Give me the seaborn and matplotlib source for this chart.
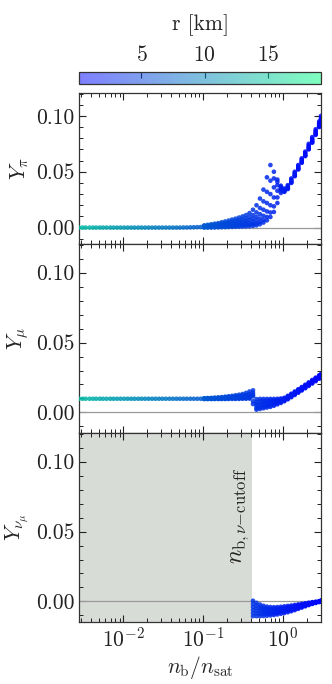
import numpy as np
import pandas as pd
import matplotlib
matplotlib.use("Agg")
import matplotlib.pyplot as plt
import seaborn as sns
from matplotlib.ticker import MultipleLocator, LogLocator, NullFormatter
from matplotlib.colors import Normalize

# ---------------- data ----------------
R_MIN, R_MAX = 0.06, 19.2
NB_CUTOFF = 0.406

# low-density part (single track)
x_low = [0.0028, 0.0031, 0.0034, 0.0038, 0.0042, 0.0046, 0.0051, 0.0056, 0.0062, 0.0069,
         0.0076, 0.0084, 0.0093, 0.0103, 0.0114, 0.0126, 0.0139, 0.0154, 0.017, 0.0188,
         0.0208, 0.023, 0.0254, 0.0281, 0.031, 0.0343, 0.038, 0.042, 0.0464, 0.0513,
         0.0567, 0.0627, 0.0693, 0.0766, 0.0847, 0.0937]
r_low = [14.0, 13.8, 13.6, 13.4, 13.2, 13.0, 12.8, 12.6, 12.4, 12.2,
         12.0, 11.8, 11.6, 11.4, 11.2, 11.0, 10.8, 10.6, 10.4, 10.2,
         10.0, 9.8, 9.6, 9.4, 9.2, 9.0, 8.8, 8.6, 8.4, 8.2,
         8.0, 7.8, 7.6, 7.4, 7.2, 7.0]
ypi_low = [0.0000, 0.0000, 0.0000, 0.0000, 0.0000, 0.0000, 0.0000, 0.0000, 0.0000, 0.0000,
           0.0000, 0.0000, 0.0000, 0.0000, 0.0000, 0.0000, 0.0000, 0.0000, 0.0000, 0.0000,
           0.0000, 0.0000, 0.0000, 0.0000, 0.0000, 0.0000, 0.0000, 0.0000, 0.0000, 0.0000,
           0.0001, 0.0001, 0.0002, 0.0003, 0.0004, 0.0005]
ymu_low = [0.0098, 0.0098, 0.0098, 0.0098, 0.0098, 0.0098, 0.0098, 0.0098, 0.0098, 0.0098,
           0.0098, 0.0098, 0.0098, 0.0098, 0.0098, 0.0098, 0.0098, 0.0098, 0.0098, 0.0098,
           0.0098, 0.0098, 0.0098, 0.0098, 0.0098, 0.0098, 0.0098, 0.0098, 0.0098, 0.0098,
           0.0098, 0.0098, 0.0098, 0.0098, 0.0098, 0.0098]

# high-density part (several tracks)
x_high = [0.1036, 0.1145, 0.1266, 0.14, 0.1548, 0.1711, 0.1892, 0.2092, 0.2313, 0.2557,
          0.2827, 0.3125, 0.3455, 0.382, 0.4224, 0.467, 0.5163, 0.5708, 0.6311, 0.6977,
          0.7714, 0.8529, 0.943, 1.0426, 1.1527, 1.2744, 1.409, 1.5578, 1.7223, 1.9042,
          2.1053, 2.3276, 2.5734, 2.8452, 3.0]
r_high = [6.8, 6.6, 6.4, 6.2, 6.0, 5.8, 5.6, 5.4, 5.2, 5.0,
          4.8, 4.6, 4.4, 4.2, 4.0, 3.8, 3.6, 3.4, 3.2, 3.0,
          2.8, 2.6, 2.4, 2.2, 2.0, 1.8, 1.6, 1.4, 1.25, 1.1,
          0.95, 0.8, 0.65, 0.5, 0.4]

ypi_t1 = [0.0000, 0.0000, 0.0000, 0.0001, 0.0002, 0.0003, 0.0004, 0.0005, 0.0006, 0.0007,
          0.0008, 0.0009, 0.0010, 0.0012, 0.0015, 0.0020, 0.0030, 0.0045, 0.0065, 0.0095,
          0.0140, 0.0220, 0.0310, 0.0320, 0.0345, 0.0400, 0.0460, 0.0520, 0.0580, 0.0640,
          0.0700, 0.0760, 0.0830, 0.0900, 0.0945]
ypi_t2 = [0.0003, 0.0004, 0.0005, 0.0006, 0.0007, 0.0009, 0.0010, 0.0012, 0.0014, 0.0016,
          0.0018, 0.0020, 0.0023, 0.0026, 0.0031, 0.0038, 0.0050, 0.0068, 0.0095, 0.0135,
          0.0190, 0.0270, 0.0330, 0.0325, 0.0350, 0.0405, 0.0465, 0.0525, 0.0585, 0.0645,
          0.0705, 0.0765, 0.0835, 0.0905, 0.0950]
ypi_t3 = [0.0006, 0.0008, 0.0010, 0.0012, 0.0014, 0.0016, 0.0019, 0.0022, 0.0025, 0.0028,
          0.0032, 0.0035, 0.0039, 0.0044, 0.0052, 0.0063, 0.0080, 0.0105, 0.0145, 0.0200,
          0.0270, 0.0330, 0.0345, 0.0330, 0.0355, 0.0410, 0.0470, 0.0530, 0.0590, 0.0650,
          0.0715, 0.0775, 0.0845, 0.0915, 0.0960]
ypi_t4 = [0.0010, 0.0013, 0.0015, 0.0018, 0.0021, 0.0025, 0.0029, 0.0033, 0.0038, 0.0043,
          0.0048, 0.0053, 0.0059, 0.0067, 0.0079, 0.0095, 0.0120, 0.0160, 0.0220, 0.0300,
          0.0360, 0.0380, 0.0355, 0.0335, 0.0360, 0.0420, 0.0480, 0.0540, 0.0600, 0.0660,
          0.0725, 0.0785, 0.0855, 0.0925, 0.0970]
ypi_t5 = [0.0015, 0.0018, 0.0022, 0.0026, 0.0030, 0.0036, 0.0041, 0.0047, 0.0054, 0.0060,
          0.0067, 0.0074, 0.0082, 0.0094, 0.0112, 0.0136, 0.0175, 0.0235, 0.0320, 0.0420,
          0.0440, 0.0410, 0.0365, 0.0340, 0.0370, 0.0430, 0.0490, 0.0550, 0.0610, 0.0670,
          0.0735, 0.0795, 0.0865, 0.0935, 0.0980]
ypi_t6 = [0.0020, 0.0025, 0.0030, 0.0035, 0.0040, 0.0048, 0.0055, 0.0063, 0.0072, 0.0080,
          0.0090, 0.0100, 0.0112, 0.0130, 0.0160, 0.0200, 0.0260, 0.0340, 0.0450, 0.0560,
          0.0500, 0.0430, 0.0375, 0.0350, 0.0380, 0.0440, 0.0500, 0.0560, 0.0620, 0.0680,
          0.0750, 0.0810, 0.0880, 0.0950, 0.1000]

ymu_t1 = [0.0096, 0.0096, 0.0096, 0.0096, 0.0096, 0.0096, 0.0096, 0.0097, 0.0097, 0.0097,
          0.0097, 0.0098, 0.0098, 0.0099, 0.0060, 0.0020, 0.0025, 0.0030, 0.0035, 0.0040,
          0.0048, 0.0058, 0.0068, 0.0080, 0.0094, 0.0109, 0.0125, 0.0141, 0.0157, 0.0173,
          0.0190, 0.0207, 0.0224, 0.0241, 0.0250]
ymu_t2 = [0.0097, 0.0097, 0.0097, 0.0098, 0.0098, 0.0098, 0.0099, 0.0099, 0.0100, 0.0100,
          0.0101, 0.0102, 0.0103, 0.0105, 0.0080, 0.0030, 0.0035, 0.0040, 0.0045, 0.0050,
          0.0057, 0.0065, 0.0074, 0.0085, 0.0099, 0.0114, 0.0130, 0.0146, 0.0162, 0.0178,
          0.0195, 0.0212, 0.0229, 0.0246, 0.0255]
ymu_t3 = [0.0098, 0.0098, 0.0099, 0.0099, 0.0100, 0.0100, 0.0101, 0.0102, 0.0103, 0.0104,
          0.0105, 0.0107, 0.0109, 0.0112, 0.0115, 0.0045, 0.0050, 0.0055, 0.0058, 0.0062,
          0.0066, 0.0072, 0.0080, 0.0090, 0.0104, 0.0119, 0.0135, 0.0151, 0.0167, 0.0183,
          0.0200, 0.0217, 0.0234, 0.0251, 0.0260]
ymu_t4 = [0.0099, 0.0100, 0.0100, 0.0101, 0.0102, 0.0103, 0.0104, 0.0106, 0.0107, 0.0109,
          0.0111, 0.0113, 0.0116, 0.0120, 0.0125, 0.0060, 0.0065, 0.0068, 0.0070, 0.0073,
          0.0076, 0.0080, 0.0086, 0.0095, 0.0109, 0.0124, 0.0140, 0.0156, 0.0172, 0.0188,
          0.0205, 0.0222, 0.0239, 0.0256, 0.0265]
ymu_t5 = [0.0100, 0.0101, 0.0102, 0.0103, 0.0104, 0.0106, 0.0108, 0.0110, 0.0112, 0.0115,
          0.0118, 0.0122, 0.0126, 0.0132, 0.0140, 0.0075, 0.0080, 0.0082, 0.0084, 0.0086,
          0.0087, 0.0089, 0.0092, 0.0100, 0.0114, 0.0129, 0.0145, 0.0161, 0.0177, 0.0193,
          0.0210, 0.0227, 0.0244, 0.0261, 0.0270]
ymu_t6 = [0.0102, 0.0103, 0.0104, 0.0106, 0.0108, 0.0110, 0.0113, 0.0116, 0.0119, 0.0123,
          0.0127, 0.0132, 0.0140, 0.0150, 0.0158, 0.0095, 0.0097, 0.0097, 0.0097, 0.0097,
          0.0097, 0.0098, 0.0100, 0.0105, 0.0119, 0.0134, 0.0150, 0.0166, 0.0182, 0.0198,
          0.0215, 0.0232, 0.0249, 0.0266, 0.0275]

# nu_mu fraction exists only above the cutoff density (x_high[14:])
ynu_t1 = [0.0005, -0.0010, -0.0022, -0.0031, -0.0037, -0.0040, -0.0041, -0.0040, -0.0038, -0.0035,
          -0.0032, -0.0029, -0.0025, -0.0021, -0.0017, -0.0013, -0.0009, -0.0005, -0.0002, 0.0002, 0.0006]
ynu_t2 = [-0.0017, -0.0029, -0.0039, -0.0046, -0.0050, -0.0052, -0.0052, -0.0051, -0.0048, -0.0045,
          -0.0041, -0.0037, -0.0032, -0.0027, -0.0022, -0.0017, -0.0012, -0.0008, -0.0004, 0.0001, 0.0005]
ynu_t3 = [-0.0039, -0.0048, -0.0055, -0.0060, -0.0063, -0.0064, -0.0063, -0.0061, -0.0058, -0.0054,
          -0.0050, -0.0045, -0.0040, -0.0034, -0.0028, -0.0022, -0.0016, -0.0010, -0.0006, 0.0000, 0.0004]
ynu_t4 = [-0.0061, -0.0067, -0.0072, -0.0075, -0.0076, -0.0076, -0.0075, -0.0072, -0.0068, -0.0064,
          -0.0059, -0.0054, -0.0047, -0.0040, -0.0033, -0.0026, -0.0019, -0.0013, -0.0007, -0.0001, 0.0002]
ynu_t5 = [-0.0083, -0.0086, -0.0088, -0.0089, -0.0089, -0.0088, -0.0086, -0.0082, -0.0078, -0.0073,
          -0.0068, -0.0062, -0.0055, -0.0047, -0.0039, -0.0031, -0.0023, -0.0015, -0.0009, -0.0003, 0.0001]
ynu_t6 = [-0.0105, -0.0105, -0.0105, -0.0104, -0.0102, -0.0100, -0.0097, -0.0093, -0.0088, -0.0083,
          -0.0077, -0.0070, -0.0062, -0.0053, -0.0044, -0.0035, -0.0026, -0.0018, -0.0011, -0.0004, 0.0000]

# ---------------- tables ----------------
df_low = pd.DataFrame({"nb": x_low, "r": r_low, "ypi": ypi_low, "ymu": ymu_low})
pi_tracks = [ypi_t1, ypi_t2, ypi_t3, ypi_t4, ypi_t5, ypi_t6]
mu_tracks = [ymu_t1, ymu_t2, ymu_t3, ymu_t4, ymu_t5, ymu_t6]
nu_tracks = [ynu_t1, ynu_t2, ynu_t3, ynu_t4, ynu_t5, ynu_t6]
df_high = pd.concat([pd.DataFrame({"nb": x_high, "r": r_high, "ypi": p, "ymu": m})
                     for p, m in zip(pi_tracks, mu_tracks)], ignore_index=True)
df_pi = pd.concat([df_low, df_high], ignore_index=True)
df_nu = pd.concat([pd.DataFrame({"nb": x_high[14:], "r": r_high[14:], "ynu": n})
                   for n in nu_tracks], ignore_index=True)

# ---------------- style ----------------
sns.set_style("ticks")
FS = 15.5
plt.rcParams.update({
    "font.family": "serif",
    "font.serif": ["cmr10"],
    "mathtext.fontset": "cm",
    "axes.formatter.use_mathtext": True,
    "axes.unicode_minus": False,
    "font.size": FS,
    "axes.labelsize": FS,
    "xtick.labelsize": FS,
    "ytick.labelsize": FS,
    "xtick.direction": "in",
    "ytick.direction": "in",
    "xtick.top": True,
    "ytick.right": True,
    "xtick.major.size": 5,
    "ytick.major.size": 5,
    "xtick.minor.size": 2.6,
    "ytick.minor.size": 2.6,
    "xtick.major.width": 0.8,
    "ytick.major.width": 0.8,
    "xtick.minor.width": 0.7,
    "ytick.minor.width": 0.7,
    "axes.linewidth": 0.9,
    "axes.edgecolor": "#333333",
    "xtick.color": "#222222",
    "ytick.color": "#222222",
})

W, H = 332, 684
fig = plt.figure(figsize=(W / 100, H / 100), dpi=100)
L, AW = 79 / W, 242 / W


def box(top, bottom):
    return [L, (H - bottom) / H, AW, (bottom - top) / H]


ax_pi = fig.add_axes(box(93, 244))
ax_mu = fig.add_axes(box(244, 433))
ax_nu = fig.add_axes(box(433, 622))
cax = fig.add_axes(box(72, 84))

YLIM = (-0.0147, 0.1205)
XLIM = (0.0028, 3.0)
kw = dict(hue="r", palette="winter", hue_norm=(R_MIN, R_MAX), s=11, alpha=0.85,
          linewidth=0, legend=False, zorder=3)

sns.scatterplot(data=df_pi, x="nb", y="ypi", ax=ax_pi, **kw)
sns.scatterplot(data=df_pi, x="nb", y="ymu", ax=ax_mu, **kw)
sns.scatterplot(data=df_nu, x="nb", y="ynu", ax=ax_nu, **kw)

ax_nu.axvspan(1e-4, NB_CUTOFF, color="#d8dcd7", lw=0, zorder=0)
ax_nu.text(NB_CUTOFF * 0.985, 0.0955, r"$n_{\mathrm{b},\nu{-}\mathrm{cutoff}}$",
           rotation=90, ha="right", va="top", fontsize=17, color="#222222")

for ax, lab in [(ax_pi, r"$Y_\pi$"), (ax_mu, r"$Y_\mu$"), (ax_nu, r"$Y_{\nu_\mu}$")]:
    ax.axhline(0, color="#9a9a9a", lw=0.9, zorder=2)
    ax.set_xscale("log")
    ax.set_xlim(*XLIM)
    ax.set_ylim(*YLIM)
    ax.set_yticks([0.0, 0.05, 0.10])
    ax.yaxis.set_major_formatter(matplotlib.ticker.FormatStrFormatter("%.2f"))
    ax.yaxis.set_minor_locator(MultipleLocator(0.01))
    ax.xaxis.set_major_locator(LogLocator(base=10))
    ax.xaxis.set_minor_locator(LogLocator(base=10, subs=np.arange(2, 10)))
    ax.xaxis.set_minor_formatter(NullFormatter())
    ax.set_ylabel(lab, labelpad=3)
    ax.set_xlabel("")
    ax.tick_params(which="both", top=True, right=True)

for ax in (ax_pi, ax_mu):
    ax.tick_params(axis="x", which="both", labelbottom=False)

ax_nu.set_xlabel(r"$n_\mathrm{b}/n_\mathrm{sat}$", labelpad=2)

# colorbar
sm = plt.cm.ScalarMappable(cmap="winter", norm=Normalize(R_MIN, R_MAX))
cb = fig.colorbar(sm, cax=cax, orientation="horizontal", alpha=0.5)
cb.set_ticks([5, 10, 15])
cax.xaxis.set_ticks_position("top")
cax.xaxis.set_label_position("top")
cax.tick_params(axis="x", direction="in", length=4, width=0.8, top=True, bottom=False,
                labeltop=True, labelbottom=False, pad=5)
cax.minorticks_off()
cb.outline.set_edgecolor("#333333")
cb.outline.set_linewidth(0.9)
cb.set_label("r [km]", labelpad=11)

fig.savefig("out.png", dpi=100)
